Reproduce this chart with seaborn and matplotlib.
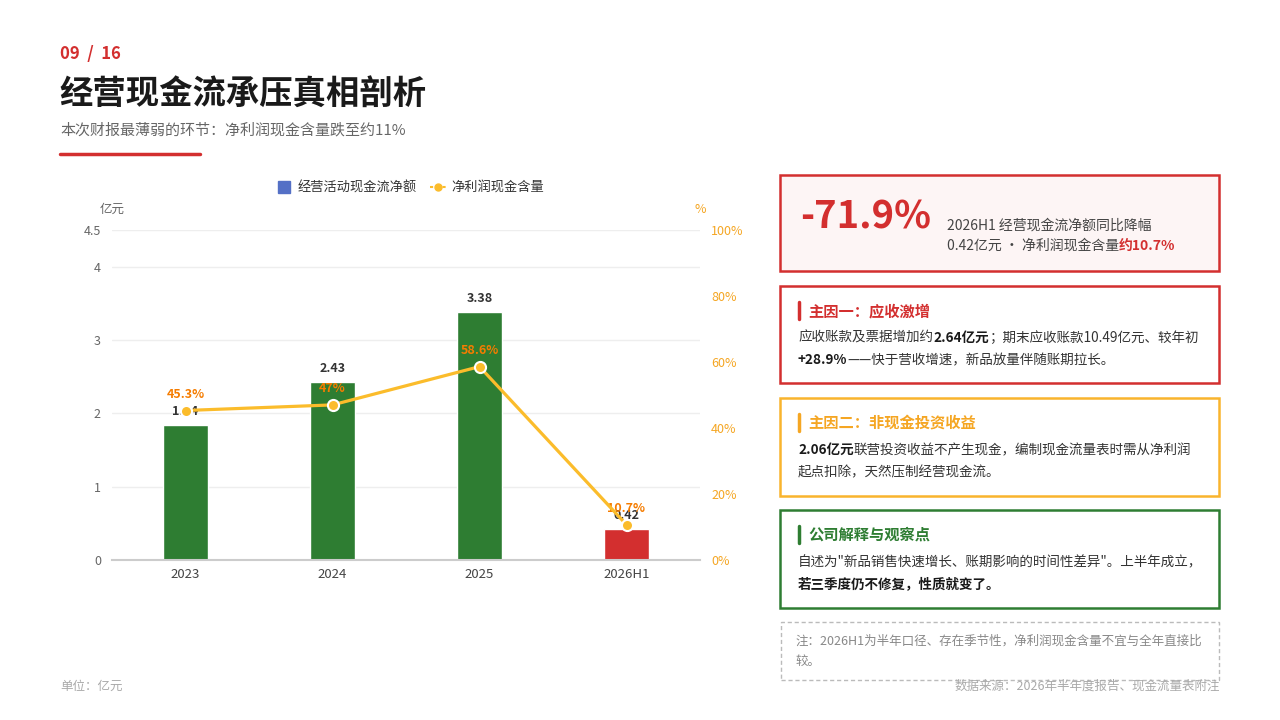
import numpy as np
import pandas as pd
import matplotlib
matplotlib.use('Agg')
import matplotlib.pyplot as plt
import seaborn as sns
from matplotlib.patches import Rectangle
from matplotlib.lines import Line2D

sns.set_theme(style="white")
plt.rcParams['font.family'] = ['Noto Sans CJK SC', 'DejaVu Sans']
plt.rcParams['axes.unicode_minus'] = False

# 数据
years = ['2023', '2024', '2025', '2026H1']
cash_flow = [1.84, 2.43, 3.38, 0.42]          # 经营活动现金流净额（亿元）
cash_ratio = [45.3, 47.0, 58.6, 10.7]         # 净利润现金含量（%）
ratio_labels = ['45.3%', '47%', '58.6%', '10.7%']
bar_colors = ['#2E7D32', '#2E7D32', '#2E7D32', '#D32F2F']
left_ticks = [0, 1, 2, 3, 4, 4.5]
right_ticks = [0, 20, 40, 60, 80, 100]

W, H = 1280, 720
fig = plt.figure(figsize=(12.8, 7.2), dpi=100)
fig.patch.set_facecolor('white')
renderer = fig.canvas.get_renderer()


def fx(x):
    return x / W


def fy(y):
    return 1 - y / H


def text(x, y, s, **kw):
    return fig.text(fx(x), fy(y), s, **kw)


def rich(x, y, parts, size=10, va='center'):
    # 依次绘制多段文字（粗细/颜色不同）
    for s, color, weight in parts:
        t = text(x, y, s, fontsize=size, color=color, fontweight=weight, va=va)
        x += t.get_window_extent(renderer).width


def box(x0, y0, x1, y1, edge, face='white', lw=1.8, ls='-'):
    r = Rectangle((fx(x0), fy(y1)), fx(x1 - x0), (y1 - y0) / H,
                  transform=fig.transFigure, facecolor=face, edgecolor=edge,
                  linewidth=lw, linestyle=ls, zorder=0)
    fig.add_artist(r)


# 标题区
text(60, 54, '09  /  16', fontsize=12, color='#D32F2F', fontweight='bold', va='center')
text(59, 95, '经营现金流承压真相剖析', fontsize=24, color='#1a1a1a', fontweight='black', va='center')
text(60, 130, '本次财报最薄弱的环节：净利润现金含量跌至约11%', fontsize=10.8, color='#666666', va='center')
fig.add_artist(Line2D([fx(60), fx(200)], [fy(154), fy(154)], color='#D32F2F', lw=2.5,
                      transform=fig.transFigure))

# 图表
ax = fig.add_axes([fx(112), fy(560), fx(588), 330 / H])
df = pd.DataFrame({'year': years, 'value': cash_flow})
sns.barplot(data=df, x='year', y='value', hue='year', palette=bar_colors, legend=False,
            width=0.3, saturation=1, ax=ax, zorder=2)
ax.set_xlim(-0.5, 3.5)
ax.set_ylim(0, 4.5)
ax.set_yticks(left_ticks)
ax.set_yticklabels(['0', '1', '2', '3', '4', '4.5'])
ax.tick_params(axis='y', colors='#666666', labelsize=9, length=0, pad=8)
ax.tick_params(axis='x', colors='#444444', labelsize=9.5, length=0, pad=6)
ax.set_xlabel('')
ax.set_ylabel('')
for s in ['top', 'left', 'right']:
    ax.spines[s].set_visible(False)
ax.spines['bottom'].set_color('#cccccc')
ax.spines['bottom'].set_linewidth(1.5)
ax.yaxis.grid(True, color='#eeeeee', lw=1)
ax.set_axisbelow(True)
for i, v in enumerate(cash_flow):
    ax.annotate(f'{v:.2f}', (i, v), xytext=(0, 5), textcoords='offset points',
                ha='center', va='bottom', fontsize=9, fontweight='bold', color='#333333')

ax2 = ax.twinx()
xs = np.arange(len(years))
sns.lineplot(x=xs, y=cash_ratio, ax=ax2, color='#FBBC2B', lw=2.3, marker='o',
             markersize=8, markerfacecolor='#FBBC2B', markeredgecolor='white',
             markeredgewidth=1.5, zorder=5)
ax2.set_ylim(0, 100)
ax2.set_xlim(-0.5, 3.5)
ax2.set_yticks(right_ticks)
ax2.set_yticklabels([f'{t}%' for t in right_ticks])
ax2.tick_params(axis='y', colors='#F5A623', labelsize=9, length=0, pad=8)
for s in ['top', 'left', 'right', 'bottom']:
    ax2.spines[s].set_visible(False)
for i, (v, lab) in enumerate(zip(cash_ratio, ratio_labels)):
    ax2.annotate(lab, (i, v), xytext=(0, 7), textcoords='offset points',
                 ha='center', va='bottom', fontsize=9, fontweight='bold', color='#F57C00')

text(112, 209, '亿元', fontsize=9, color='#666666', ha='center', va='center')
text(700, 209, '%', fontsize=9, color='#F5A623', ha='center', va='center')

# 图例
handles = [Line2D([0], [0], marker='s', color='none', markerfacecolor='#5470C6',
                  markeredgecolor='#5470C6', markersize=9),
           Line2D([0], [0], color='#FBBC2B', lw=1.5, ls=(0, (1.5, 1.5)), marker='o',
                  markersize=5, markerfacecolor='#FBBC2B', markeredgecolor='#FBBC2B')]
fig.legend(handles, ['经营活动现金流净额', '净利润现金含量'], loc='center',
           bbox_to_anchor=(fx(410), fy(188)), ncol=2, frameon=False, fontsize=9.5,
           handlelength=1.2, handletextpad=0.4, columnspacing=1.0, labelcolor='#333333')

# 右侧卡片
box(780, 175, 1219, 271, '#D32F2F', face='#FDF5F5')
text(800, 217, '-71.9%', fontsize=27.5, color='#D32F2F', fontweight='bold', va='center')
text(947, 226, '2026H1 经营现金流净额同比降幅', fontsize=10, color='#444444', va='center')
rich(947, 246, [('0.42亿元 · 净利润现金含量', '#444444', 'normal'),
                ('约10.7%', '#D32F2F', 'bold')], size=10)

cards = [
    (286, 383, '#D32F2F', '主因一：应收激增',
     [[('应收账款及票据增加约', '#333333', 'normal'), ('2.64亿元', '#1a1a1a', 'bold'),
       ('；期末应收账款10.49亿元、较年初', '#333333', 'normal')],
      [('+28.9%', '#1a1a1a', 'bold'), ('——快于营收增速，新品放量伴随账期拉长。', '#333333', 'normal')]]),
    (398, 496, '#F9B42D', '主因二：非现金投资收益',
     [[('2.06亿元', '#1a1a1a', 'bold'), ('联营投资收益不产生现金，编制现金流量表时需从净利润', '#333333', 'normal')],
      [('起点扣除，天然压制经营现金流。', '#333333', 'normal')]]),
    (510, 608, '#2E7D32', '公司解释与观察点',
     [[('自述为"新品销售快速增长、账期影响的时间性差异"。上半年成立，', '#333333', 'normal')],
      [('若三季度仍不修复，性质就变了。', '#1a1a1a', 'bold')]]),
]
title_colors = ['#D32F2F', '#F5A623', '#2E7D32']
for (y0, y1, edge, title, lines), tc in zip(cards, title_colors):
    box(780, y0, 1219, y1, edge)
    fig.add_artist(Line2D([fx(799), fx(799)], [fy(y0 + 16), fy(y0 + 33)], color=tc, lw=2.5,
                          transform=fig.transFigure))
    text(808, y0 + 25, title, fontsize=11, color=tc, fontweight='bold', va='center')
    for k, parts in enumerate(lines):
        rich(798, y0 + 52 + 22 * k, parts, size=9.75)

box(781, 622, 1219, 680, '#bbbbbb', lw=1, ls=(0, (3, 2)))
text(795, 641, '注：2026H1为半年口径、存在季节性，净利润现金含量不宜与全年直接比', fontsize=9,
     color='#888888', va='center')
text(795, 661, '较。', fontsize=9, color='#888888', va='center')

text(1220, 686, '数据来源：2026年半年度报告、现金流量表附注', fontsize=9, color='#aaaaaa',
     ha='right', va='center')
text(60, 686, '单位：亿元', fontsize=9, color='#aaaaaa', va='center')

fig.savefig('out.png', dpi=100, facecolor='white')
